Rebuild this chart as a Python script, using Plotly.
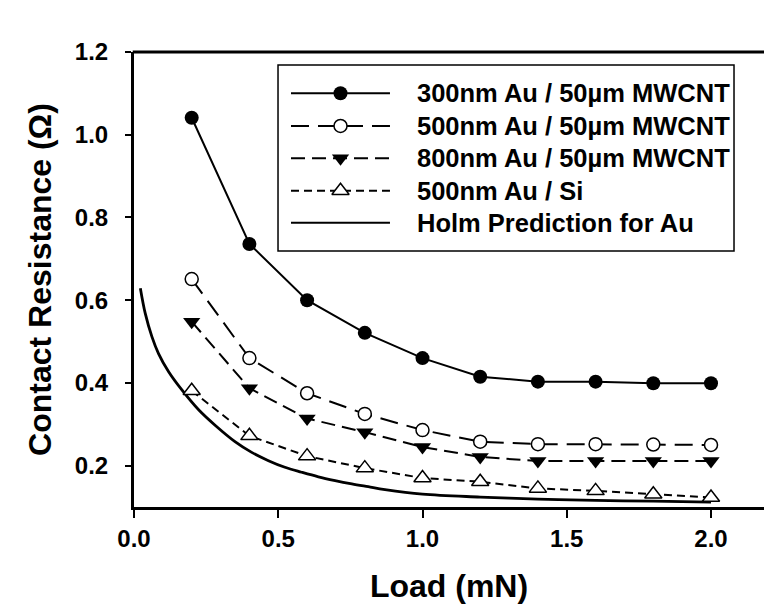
import plotly.graph_objects as go

# Load in mN
load = [0.2, 0.4, 0.6, 0.8, 1.0, 1.2, 1.4, 1.6, 1.8, 2.0]

# Contact resistance (ohm) for each contact stack
r_300au_cnt = [1.041, 0.736, 0.600, 0.521, 0.460, 0.415, 0.403, 0.403, 0.399, 0.399]
r_500au_cnt = [0.651, 0.460, 0.375, 0.325, 0.286, 0.258, 0.252, 0.252, 0.251, 0.250]
r_800au_cnt = [0.548, 0.387, 0.314, 0.281, 0.245, 0.221, 0.211, 0.211, 0.211, 0.211]
r_500au_si = [0.381, 0.272, 0.223, 0.194, 0.170, 0.161, 0.145, 0.139, 0.131, 0.123]

# Holm prediction for Au, sampled along the curve
holm_load = [0.022, 0.039, 0.062, 0.085, 0.120, 0.166, 0.224, 0.282, 0.350, 0.408,
             0.466, 0.523, 0.581, 0.639, 0.697, 0.755, 0.812, 0.870, 1.000, 1.200,
             1.400, 1.600, 1.800, 2.000]
holm_r = [0.629, 0.568, 0.512, 0.471, 0.427, 0.383, 0.335, 0.297, 0.258, 0.232,
          0.212, 0.196, 0.184, 0.173, 0.164, 0.156, 0.149, 0.142, 0.131, 0.124,
          0.119, 0.116, 0.114, 0.112]

series_names = [
    "300nm Au / 50µm MWCNT",
    "500nm Au / 50µm MWCNT",
    "800nm Au / 50µm MWCNT",
    "500nm Au / Si",
    "Holm Prediction for Au",
]

x_ticks = [0.0, 0.5, 1.0, 1.5, 2.0]
y_ticks = [0.2, 0.4, 0.6, 0.8, 1.0, 1.2]

FONT = "Liberation Sans, Arial, sans-serif"

# Line / marker styling per series (same order as series_names)
styles = [
    dict(line=dict(color="black", width=2),
         marker=dict(symbol="circle", size=14, color="black")),
    dict(line=dict(color="black", width=2, dash="18px,9px"),
         marker=dict(symbol="circle", size=13, color="white",
                     line=dict(color="black", width=1.5))),
    dict(line=dict(color="black", width=2, dash="14px,7px"),
         marker=dict(symbol="triangle-down", size=15, color="black")),
    dict(line=dict(color="black", width=2, dash="8px,5px"),
         marker=dict(symbol="triangle-up", size=15, color="white",
                     line=dict(color="black", width=1.5))),
    dict(line=dict(color="black", width=2.8)),
]

fig = go.Figure()

# Holm curve first so the measured markers sit on top of it
fig.add_trace(go.Scatter(
    x=holm_load, y=holm_r, mode="lines", name=series_names[4],
    line=dict(styles[4]["line"], shape="spline", smoothing=1.0),
    showlegend=False,
))

for name, vals, st in zip(series_names[:4],
                          [r_300au_cnt, r_500au_cnt, r_800au_cnt, r_500au_si],
                          styles[:4]):
    fig.add_trace(go.Scatter(x=load, y=vals, mode="lines+markers", name=name,
                             line=st["line"], marker=st["marker"],
                             showlegend=False))

# Boxed key inside the plot, drawn on an overlay axis pair spanning [0, 1]
key_x0, key_x1 = 0.2286, 0.9524
key_y0, key_y1 = 0.5626, 0.9714
sample_x = [0.2492, 0.3278, 0.4063]
row_y = [0.9092, 0.8374, 0.7664, 0.6952, 0.6248]
text_x = 0.446

fig.add_shape(type="rect", xref="paper", yref="paper",
              x0=key_x0, x1=key_x1, y0=key_y0, y1=key_y1,
              line=dict(color="black", width=1.5), fillcolor="white",
              layer="below")

for name, st, ry in zip(series_names, styles, row_y):
    if "marker" in st:
        fig.add_trace(go.Scatter(
            x=sample_x, y=[ry] * 3, xaxis="x2", yaxis="y2",
            mode="lines+markers", line=st["line"],
            marker=dict(st["marker"], opacity=[0, 1, 0]),
            showlegend=False, hoverinfo="skip",
        ))
    else:
        fig.add_trace(go.Scatter(
            x=[sample_x[0], sample_x[2]], y=[ry] * 2, xaxis="x2", yaxis="y2",
            mode="lines", line=dict(color="black", width=2),
            showlegend=False, hoverinfo="skip",
        ))
    fig.add_annotation(
        x=text_x, y=ry, xref="paper", yref="paper",
        xanchor="left", yanchor="middle", showarrow=False,
        text=name,
        font=dict(family=FONT, size=25.5, color="black", weight="bold"),
    )

# Frame band along the top of the plotting area
fig.add_shape(type="rect", xref="paper", yref="paper",
              x0=-0.002, x1=1, y0=0.9967, y1=1.0033,
              line=dict(width=0), fillcolor="black", layer="above")

axis_common = dict(
    showline=True, linecolor="black", linewidth=3,
    ticks="outside", tickwidth=2, tickcolor="black",
    showgrid=False, zeroline=False,
    tickfont=dict(family=FONT, size=24, color="black", weight="bold"),
)

fig.update_layout(
    xaxis=dict(
        range=[0, 2.1837], tickvals=x_ticks, tickformat=".1f",
        ticklen=8, ticklabelstandoff=0,
        title=dict(text="Load (mN)", standoff=25,
                   font=dict(family=FONT, size=32, color="black", weight="bold")),
        **axis_common,
    ),
    yaxis=dict(
        range=[0.1, 1.2], tickvals=y_ticks, tickformat=".1f",
        ticklen=6, ticklabelstandoff=12,
        title=dict(text="Contact Resistance (Ω)", standoff=14,
                   font=dict(family=FONT, size=32, color="black", weight="bold")),
        **axis_common,
    ),
    xaxis2=dict(overlaying="x", range=[0, 1], visible=False, fixedrange=True),
    yaxis2=dict(overlaying="y", range=[0, 1], visible=False, fixedrange=True),
    width=764, height=604,
    margin=dict(l=134, r=0, t=52, b=97),
    paper_bgcolor="white", plot_bgcolor="white",
    showlegend=False,
)

fig.write_html("out.html")
